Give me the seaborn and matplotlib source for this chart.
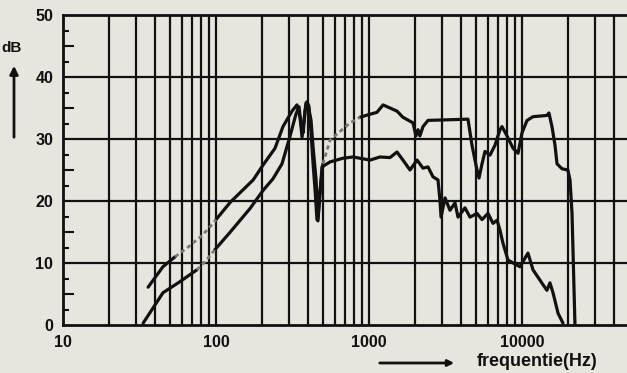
import numpy as np
import pandas as pd
import matplotlib
matplotlib.use("Agg")
import matplotlib.pyplot as plt
from matplotlib.ticker import FixedLocator, NullFormatter
import seaborn as sns

# ---------------- data ----------------
upper_freq = [36, 45, 54, 66, 79, 89, 100, 124, 175, 203, 243, 274, 314, 338, 354,
              365, 376, 387, 399, 418, 431, 451, 464, 478, 500, 556, 666, 752, 873,
              985, 1127, 1236, 1371, 1524, 1667, 1940, 2027, 2091, 2152, 2254, 2430,
              4436, 4710, 5080, 5236, 5480, 5730, 6180, 6660, 7180, 7400, 7980, 8740,
              9420, 10000, 10790, 11800, 14550, 15000, 15700, 16430, 16940, 18250,
              19950, 20600, 21230, 22190]
upper_db = [6.1, 9.4, 11.0, 12.6, 14.2, 15.5, 17.0, 19.8, 23.4, 25.8, 28.5, 32.0, 34.5,
            35.5, 33.5, 30.3, 33.0, 35.8, 35.5, 33.0, 28.7, 23.4, 17.4, 21.5, 26.0,
            29.8, 31.5, 32.6, 33.5, 33.9, 34.3, 35.5, 35.0, 34.5, 33.5, 32.6, 30.5,
            31.5, 30.5, 32.0, 33.0, 33.2, 29.0, 25.0, 23.7, 26.0, 28.0, 27.4, 29.0,
            31.5, 32.0, 30.5, 28.5, 27.7, 31.0, 33.0, 33.6, 33.8, 34.2, 32.0, 29.0,
            26.0, 25.2, 25.0, 23.4, 18.0, 0.0]

lower_freq = [33.4, 38.2, 45, 58.2, 75, 84.7, 98, 124, 167, 203, 236, 270, 305, 333,
              349, 359, 371, 382, 393, 405, 418, 431, 444, 457, 464, 478, 493, 556,
              676, 786, 1016, 1180, 1371, 1524, 1667, 1854, 2061, 2254, 2430, 2620,
              2825, 2911, 2958, 3140, 3383, 3647, 3818, 4240, 4573, 5080, 5480, 5997,
              6460, 6870, 7180, 7510, 8090, 8740, 9700, 10940, 11800, 12730, 13720,
              14550, 15230, 15950, 17200, 18530]
lower_db = [0.3, 2.5, 5.2, 7.0, 8.9, 10.2, 12.1, 15.0, 18.8, 21.7, 23.6, 26.0, 30.5,
            34.0, 35.2, 32.5, 31.0, 34.5, 36.0, 35.3, 31.0, 26.0, 21.8, 17.0, 16.8,
            21.0, 25.5, 26.3, 26.9, 27.1, 26.6, 27.1, 27.0, 27.9, 26.6, 25.0, 26.6,
            25.3, 25.5, 23.9, 23.4, 20.0, 17.4, 20.5, 18.5, 19.7, 17.4, 18.9, 17.4,
            18.0, 17.0, 18.0, 16.4, 16.9, 15.3, 13.2, 10.5, 10.0, 9.4, 11.6, 8.9,
            7.7, 6.5, 5.6, 6.8, 5.2, 1.9, 0.3]

y_ticks = [0, 10, 20, 30, 40, 50]
x_tick_values = [10, 100, 1000, 10000]
x_tick_labels = ["10", "100", "1000", "10000"]
x_label = "frequentie(Hz)"
y_label = "dB"

# faint (greyish, smudged) stretches of the trace, in Hz
upper_faint = [(54, 100), (500, 900)]
lower_faint = [(75, 98)]

# ---------------- build segments ----------------
def runs(name, freq, db, faint):
    rows = []
    seg_flags = []
    for i in range(len(freq) - 1):
        mid = np.sqrt(freq[i] * freq[i + 1])
        seg_flags.append(any(lo <= mid <= hi for lo, hi in faint))
    run_id = 0
    start = 0
    for i in range(1, len(seg_flags) + 1):
        if i == len(seg_flags) or seg_flags[i] != seg_flags[start]:
            kind = "faint" if seg_flags[start] else "solid"
            for j in range(start, i + 1):
                rows.append((name, f"{name}-{run_id}", kind, freq[j], db[j]))
            run_id += 1
            start = i
    return rows

rows = runs("upper", upper_freq, upper_db, upper_faint) + \
       runs("lower", lower_freq, lower_db, lower_faint)
df = pd.DataFrame(rows, columns=["curve", "seg", "kind", "freq", "db"])

# ---------------- style ----------------
sns.set_theme(style="white")
plt.rcParams["font.family"] = ["Liberation Sans", "DejaVu Sans"]

BG = "#e8e4de"
INK = "#111111"
W, H = 627, 373
fig = plt.figure(figsize=(W / 100, H / 100), dpi=100, facecolor=BG)
x_left, x_right, y_top, y_bot = 63, 627, 15, 325
ax = fig.add_axes([x_left / W, 1 - y_bot / H, (x_right - x_left) / W, (y_bot - y_top) / H])
ax.set_facecolor(BG)
ax.set_xscale("log")
xmax = 10 ** (1 + (x_right - x_left) / 153)
ax.set_xlim(10, xmax)
ax.set_ylim(0, 50)

# grid
minor_x = [m * d for d in [10, 100, 1000, 10000] for m in range(2, 10) if m * d < xmax]
ax.set_xticks(x_tick_values, x_tick_labels)
ax.xaxis.set_minor_locator(FixedLocator(minor_x))
ax.xaxis.set_minor_formatter(NullFormatter())
ax.grid(True, which="both", axis="x", color=INK, lw=1.6, zorder=1)
for yv in y_ticks[1:-1]:
    ax.axhline(yv, color=INK, lw=1.6, zorder=1)

ax.set_yticks(y_ticks)
ax.set_yticks([v for v in np.arange(0, 50.1, 2.5) if v % 5 != 0], minor=True)
ax.tick_params(axis="x", which="both", length=0, pad=7, labelsize=11.5)
ax.tick_params(axis="y", which="major", length=0, pad=7, labelsize=11.5)
ax.tick_params(axis="y", which="minor", direction="in", length=4, width=1.5, color=INK, left=True)
for lab in ax.get_xticklabels() + ax.get_yticklabels():
    lab.set_fontweight("bold")
    lab.set_color(INK)

sec = ax.secondary_yaxis("left")
sec.set_yticks([5, 15, 25, 35, 45])
sec.tick_params(direction="in", length=8, width=1.5, color=INK, labelleft=False)
sec.spines["left"].set_visible(False)

for side in ["left", "top", "bottom"]:
    ax.spines[side].set_visible(True)
    ax.spines[side].set_color(INK)
    ax.spines[side].set_linewidth(2)
ax.spines["right"].set_visible(False)

# curves
sns.lineplot(data=df[df.kind == "solid"], x="freq", y="db", units="seg", estimator=None,
             sort=False, color=INK, lw=2.3, legend=False, ax=ax, zorder=3)
sns.lineplot(data=df[df.kind == "faint"], x="freq", y="db", units="seg", estimator=None,
             sort=False, color="#7d7872", lw=2.0, linestyle=(0, (1.5, 1.2)),
             legend=False, ax=ax, zorder=3)
ax.set_xlabel("")
ax.set_ylabel("")

# annotations
fig.text(477 / W, 1 - 362 / H, x_label, fontsize=13, fontweight="bold",
         ha="left", va="center", color=INK)
ax.annotate("", xy=(457 / W, 1 - 363 / H), xytext=(377 / W, 1 - 363 / H),
            xycoords="figure fraction", textcoords="figure fraction",
            arrowprops=dict(arrowstyle="-|>", lw=2, color=INK, mutation_scale=9))
fig.text(12 / W, 1 - 48 / H, y_label, fontsize=11, fontweight="bold",
         ha="center", va="center", color=INK)
ax.annotate("", xy=(14 / W, 1 - 63 / H), xytext=(14 / W, 1 - 140 / H),
            xycoords="figure fraction", textcoords="figure fraction",
            arrowprops=dict(arrowstyle="-|>", lw=2, color=INK, mutation_scale=12))

fig.savefig("out.png", dpi=100, facecolor=BG)
